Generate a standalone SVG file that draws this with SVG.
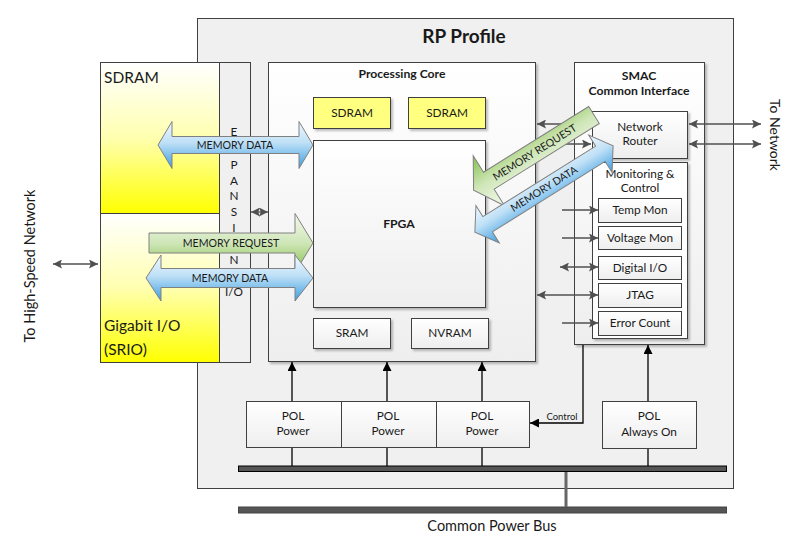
<svg xmlns="http://www.w3.org/2000/svg" width="796" height="540" viewBox="0 0 796 540">
<defs>
<style>
.box{stroke:#404040;stroke-width:1;}
.t{font-family:Lato,"Noto Sans",sans-serif;font-size:11.8px;fill:#1a1a1a;text-anchor:middle;}
.tb{font-family:Lato,"Noto Sans",sans-serif;font-size:12.2px;font-weight:bold;fill:#1a1a1a;text-anchor:middle;}
.tl{font-family:Lato,"Noto Sans",sans-serif;font-size:15.5px;fill:#1a1a1a;}
.ta{font-family:Lato,"Noto Sans",sans-serif;font-size:10.6px;fill:#1a1a1a;text-anchor:middle;}
.c{stroke:#505050;stroke-width:1.3;fill:none;}
.k{stroke:#000;stroke-width:1.3;fill:none;}
.big{stroke:#808080;stroke-width:1;}
</style>
<linearGradient id="gy" x1="0" y1="0" x2="0" y2="1"><stop offset="0" stop-color="#ffffff"/><stop offset="0.5" stop-color="#ffffb0"/><stop offset="1" stop-color="#ffff00"/></linearGradient>
<linearGradient id="gw" x1="0" y1="0" x2="0" y2="1"><stop offset="0" stop-color="#ffffff"/><stop offset="1" stop-color="#eeeeee"/></linearGradient>
<linearGradient id="gb" x1="0" y1="0" x2="0" y2="1"><stop offset="0" stop-color="#f2f9ff"/><stop offset="0.45" stop-color="#bfe0f6"/><stop offset="1" stop-color="#3b9ee2"/></linearGradient>
<linearGradient id="gg" x1="0" y1="0" x2="0" y2="1"><stop offset="0" stop-color="#f4f9ee"/><stop offset="0.5" stop-color="#cfe6b8"/><stop offset="1" stop-color="#84c04a"/></linearGradient>
<filter id="sh" x="-10%" y="-10%" width="130%" height="130%"><feDropShadow dx="2" dy="2" stdDeviation="1.2" flood-color="#000" flood-opacity="0.25"/></filter>
<marker id="ah" viewBox="0 0 10 10" refX="10" refY="5" markerUnits="userSpaceOnUse" markerWidth="10" markerHeight="9" orient="auto-start-reverse"><path d="M0,0 L10,5 L0,10 L2,5 z" fill="#505050"/></marker>
<marker id="ak" viewBox="0 0 10 10" refX="10" refY="5" markerUnits="userSpaceOnUse" markerWidth="10" markerHeight="9" orient="auto-start-reverse"><path d="M0,0 L10,5 L0,10 z" fill="#000"/></marker>
</defs>
<rect width="796" height="540" fill="#fff"/>

<g id="rp-profile">
<rect class="box" x="197.5" y="18.5" width="536" height="470" fill="#f0f0f0"/>
<text x="464" y="43" class="tb" style="font-size:19px">RP Profile</text>
</g>

<g id="sdram-left">
<rect class="box" x="100.5" y="62.5" width="119" height="151" fill="url(#gy)"/>
<text x="104" y="83" class="tl">SDRAM</text>
</g>
<g id="gigabit-io">
<rect class="box" x="100.5" y="213.5" width="119" height="149" fill="url(#gy)"/>
<text x="104" y="331" class="tl">Gigabit I/O</text>
<text x="104" y="355" class="tl">(SRIO)</text>
</g>
<g id="expansion-io">
<rect class="box" x="219.5" y="62.5" width="31" height="300" fill="#f0f0f0"/>
<text class="t" x="234"><tspan x="234" y="136">E</tspan><tspan x="234" y="169">P</tspan><tspan x="234" y="185">A</tspan><tspan x="234" y="200">N</tspan><tspan x="234" y="216">S</tspan><tspan x="234" y="232">I</tspan><tspan x="234" y="264">N</tspan><tspan x="234" y="296">I/O</tspan></text>
</g>

<g id="processing-core">
<rect class="box" x="268.5" y="62.5" width="267" height="299" fill="url(#gw)" filter="url(#sh)"/>
<text x="402" y="78" class="tb">Processing Core</text>
</g>
<g id="sdram-1"><rect class="box" x="313.5" y="97.5" width="77" height="31" fill="#ffff80" filter="url(#sh)"/><text x="352" y="117" class="t">SDRAM</text></g>
<g id="sdram-2"><rect class="box" x="408.5" y="97.5" width="77" height="31" fill="#ffff80" filter="url(#sh)"/><text x="447" y="117" class="t">SDRAM</text></g>
<g id="fpga"><rect class="box" x="313.5" y="140.5" width="172" height="167" fill="url(#gw)" filter="url(#sh)"/><text x="399" y="228" class="tb">FPGA</text></g>
<g id="sram"><rect class="box" x="313.5" y="318.5" width="77" height="30" fill="url(#gw)" filter="url(#sh)"/><text x="352" y="337" class="t">SRAM</text></g>
<g id="nvram"><rect class="box" x="411.5" y="318.5" width="77" height="30" fill="url(#gw)" filter="url(#sh)"/><text x="450" y="337" class="t">NVRAM</text></g>

<g id="smac">
<rect class="box" x="574.5" y="62.5" width="130" height="282" fill="url(#gw)" filter="url(#sh)"/>
<text x="639" y="80" class="tb">SMAC</text>
<text x="639" y="95" class="tb">Common Interface</text>
</g>
<g id="network-router"><rect class="box" x="592.5" y="111.5" width="95" height="47" fill="url(#gw)" filter="url(#sh)"/><text x="640" y="131" class="t">Network</text><text x="640" y="145" class="t">Router</text></g>
<g id="monitoring-control"><rect class="box" x="592.5" y="162.5" width="95" height="176" fill="#fff" filter="url(#sh)"/><text x="640" y="178" class="t">Monitoring &amp;</text><text x="640" y="192" class="t">Control</text></g>
<g id="temp-mon"><rect class="box" x="598.5" y="198.5" width="83" height="24" fill="url(#gw)"/><text x="640" y="214" class="t">Temp Mon</text></g>
<g id="voltage-mon"><rect class="box" x="598.5" y="226.5" width="83" height="23" fill="url(#gw)"/><text x="640" y="242" class="t">Voltage Mon</text></g>
<g id="digital-io"><rect class="box" x="598.5" y="256.5" width="83" height="23" fill="url(#gw)"/><text x="640" y="272" class="t">Digital I/O</text></g>
<g id="jtag"><rect class="box" x="598.5" y="283.5" width="83" height="24" fill="url(#gw)"/><text x="640" y="299" class="t">JTAG</text></g>
<g id="error-count"><rect class="box" x="598.5" y="311.5" width="83" height="24" fill="url(#gw)"/><text x="640" y="327" class="t">Error Count</text></g>

<g id="pol-1"><rect class="box" x="246.5" y="401.5" width="95" height="46" fill="url(#gw)"/><text x="293" y="420" class="t">POL</text><text x="293" y="435" class="t">Power</text></g>
<g id="pol-2"><rect class="box" x="341.5" y="401.5" width="95" height="46" fill="url(#gw)"/><text x="388" y="420" class="t">POL</text><text x="388" y="435" class="t">Power</text></g>
<g id="pol-3"><rect class="box" x="436.5" y="401.5" width="93" height="46" fill="url(#gw)"/><text x="482" y="420" class="t">POL</text><text x="482" y="435" class="t">Power</text></g>
<g id="pol-always-on"><rect class="box" x="602.5" y="401.5" width="94" height="47" fill="url(#gw)"/><text x="649" y="420" class="t">POL</text><text x="649" y="436" class="t">Always On</text></g>

<g id="power-bus-inner"><rect x="238.5" y="466" width="488" height="5.5" fill="#555" stroke="#000" stroke-width="1"/></g>
<g id="common-power-bus"><rect x="238.5" y="507" width="488" height="6" fill="#555" stroke="#444" stroke-width="1"/><text x="492" y="531" class="t" style="font-size:14.5px">Common Power Bus</text></g>

<g id="connectors">
<line class="c" x1="53" y1="264" x2="98" y2="264" marker-start="url(#ah)" marker-end="url(#ah)"/>
<line class="c" x1="251" y1="212" x2="268" y2="212" marker-start="url(#ah)" marker-end="url(#ah)"/>
<line class="c" x1="592" y1="124" x2="537" y2="124" marker-end="url(#ah)"/>
<line class="c" x1="536" y1="144" x2="591" y2="144" marker-end="url(#ah)"/>
<line class="c" x1="689" y1="124" x2="761" y2="124" marker-start="url(#ah)" marker-end="url(#ah)"/>
<line class="c" x1="689" y1="144" x2="761" y2="144" marker-start="url(#ah)" marker-end="url(#ah)"/>
<line class="c" x1="562" y1="210" x2="598" y2="210" marker-end="url(#ah)"/>
<line class="c" x1="562" y1="238" x2="598" y2="238" marker-end="url(#ah)"/>
<line class="c" x1="560" y1="267" x2="598" y2="267" marker-start="url(#ah)" marker-end="url(#ah)"/>
<line class="c" x1="537" y1="295" x2="598" y2="295" marker-start="url(#ah)" marker-end="url(#ah)"/>
<line class="c" x1="562" y1="323" x2="598" y2="323" marker-end="url(#ah)"/>
<line class="k" x1="292" y1="401" x2="292" y2="362" marker-end="url(#ak)"/>
<line class="k" x1="387" y1="401" x2="387" y2="362" marker-end="url(#ak)"/>
<line class="k" x1="482" y1="401" x2="482" y2="362" marker-end="url(#ak)"/>
<line class="k" x1="648" y1="401" x2="648" y2="345" marker-end="url(#ak)"/>
<line class="k" x1="292" y1="448" x2="292" y2="466"/>
<line class="k" x1="387" y1="448" x2="387" y2="466"/>
<line class="k" x1="482" y1="448" x2="482" y2="466"/>
<line class="k" x1="648" y1="449" x2="648" y2="466"/>
<polyline class="k" points="583,345 583,423 530,423" marker-end="url(#ak)"/>
<text x="562" y="420" class="t" style="font-size:9.5px">Control</text>
<line x1="566" y1="472" x2="566" y2="507" stroke="#666" stroke-width="3"/>
</g>

<g id="data-arrows">
<path class="big" d="M158,145 L172,121.5 L172,136.5 L299,136.5 L299,121.5 L313,145 L299,168.5 L299,153.5 L172,153.5 L172,168.5 Z" fill="url(#gb)"/>
<text x="235" y="149" class="ta">MEMORY DATA</text>
<path class="big" d="M149,233 L295,233 L295,213.5 L313,243 L295,272.5 L295,253 L149,253 Z" fill="url(#gg)"/>
<text x="231" y="247" class="ta">MEMORY REQUEST</text>
<path class="big" d="M146,278 L161,255 L161,268.5 L295,268.5 L295,255 L313,278 L295,301 L295,287.5 L161,287.5 L161,301 Z" fill="url(#gb)"/>
<text x="230" y="282" class="ta">MEMORY DATA</text>
<path class="big" d="M0,-10 L124,-10 L124,-29.5 L142,0 L124,29.5 L124,10 L0,10 Z" fill="url(#gg)" transform="translate(594,115) rotate(148)"/>
<text class="ta" transform="translate(535,153) rotate(-32)" y="3">MEMORY REQUEST</text>
<path class="big" d="M-81.5,0 L-66.5,-22 L-66.5,-9 L66.5,-9 L66.5,-22 L81.5,0 L66.5,22 L66.5,9 L-66.5,9 L-66.5,22 Z" fill="url(#gb)" transform="translate(544,189) rotate(-32)"/>
<text class="ta" transform="translate(544,189) rotate(-32)" y="3.5">MEMORY DATA</text>
</g>

<text class="t" style="font-size:14px" transform="translate(770,135) rotate(90)">To Network</text>
<text class="t" style="font-size:14.5px" transform="translate(35,266) rotate(-90)">To High-Speed Network</text>
</svg>
